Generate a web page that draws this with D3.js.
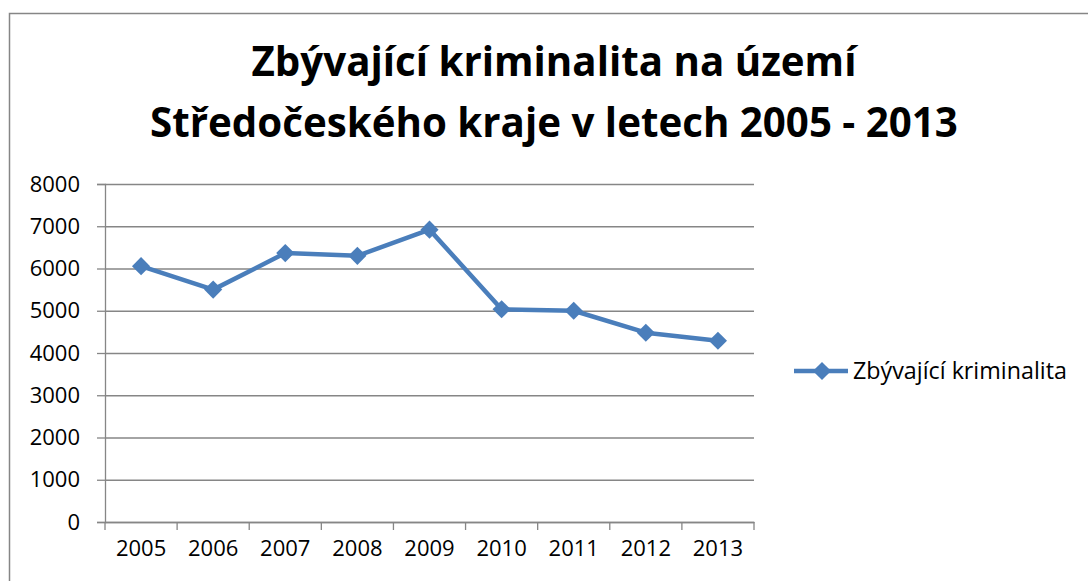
<!DOCTYPE html>
<html>
<head>
<meta charset="utf-8">
<script src="https://cdn.jsdelivr.net/npm/d3@7"></script>
<style>
  body { margin: 0; background: #fff; }
  text { font-family: "Open Sans", Lato, sans-serif; fill: #000; }
</style>
</head>
<body>
<svg id="chart" width="1088" height="581"></svg>
<script>
// data
var years = ["2005", "2006", "2007", "2008", "2009", "2010", "2011", "2012", "2013"];
var values = [6055, 5500, 6365, 6300, 6920, 5035, 5000, 4480, 4290];
var yTicks = [0, 1000, 2000, 3000, 4000, 5000, 6000, 7000, 8000];
var seriesName = "Zbývající kriminalita";
var titleLines = ["Zbývající kriminalita na území", "Středočeského kraje v letech 2005 - 2013"];

var svg = d3.select("svg#chart"),
  margin = { top: 184, left: 105 },
  width = 649,
  height = 338,
  blue = "#4a7ebb",
  grey = "#868686";

// outer chart border
svg.append("rect")
  .attr("x", 9.5).attr("y", 13.5)
  .attr("width", 1100).attr("height", 600)
  .attr("fill", "none").attr("stroke", grey).attr("stroke-width", 1.5);

// title, two lines, sized to the width in the picture
var title = svg.append("g").attr("font-weight", "bold").attr("text-anchor", "middle");
var t2 = title.append("text").attr("x", 554).attr("y", 137).attr("font-size", 40).text(titleLines[1]);
var fs = 40 * 808 / t2.node().getComputedTextLength();
t2.attr("font-size", fs);
title.append("text").attr("x", 554).attr("y", 76).attr("font-size", fs).text(titleLines[0]);

var g = svg.append("g")
  .attr("transform", "translate(" + margin.left + "," + margin.top + ")");

var x = d3.scaleBand().domain(years).range([0, width]);
var y = d3.scaleLinear().domain([0, 8000]).range([height, 0]);

// gridlines
g.append("g")
  .call(d3.axisLeft(y).tickValues(yTicks).tickSize(-width).tickFormat(""))
  .call(function (a) { a.select(".domain").remove(); })
  .selectAll("line").attr("stroke", grey).attr("stroke-width", 1.3);

// y axis
var ya = g.append("g")
  .call(d3.axisLeft(y).tickValues(yTicks).tickSize(8).tickPadding(17).tickFormat(d3.format("d")));
ya.select(".domain").attr("stroke", grey).attr("stroke-width", 1.3);
ya.selectAll("line").attr("stroke", grey).attr("stroke-width", 1.3);
ya.selectAll("text").attr("font-size", 22).attr("font-family", null);

// x axis: labels at category centres, ticks between categories
var xa = g.append("g")
  .attr("transform", "translate(0," + height + ")")
  .call(d3.axisBottom(x).tickSize(0).tickPadding(18));
xa.select(".domain").attr("stroke", grey).attr("stroke-width", 1.3);
xa.selectAll("text").attr("font-size", 22).attr("font-family", null);
xa.selectAll(".sep")
  .data(years.concat(["end"]))
  .enter()
  .append("line")
  .attr("class", "sep")
  .attr("x1", function (d) { return d === "end" ? width : x(d); })
  .attr("x2", function (d) { return d === "end" ? width : x(d); })
  .attr("y1", 0).attr("y2", 8)
  .attr("stroke", grey).attr("stroke-width", 1.3);

// series line
var line = d3.line()
  .x(function (d, i) { return x(years[i]) + x.bandwidth() / 2; })
  .y(function (d) { return y(d); });

g.append("path")
  .datum(values)
  .attr("fill", "none")
  .attr("stroke", blue)
  .attr("stroke-width", 4.5)
  .attr("stroke-linejoin", "round")
  .attr("d", line);

var diamond = d3.symbol().type(d3.symbolSquare).size(165);

g.selectAll(".pt")
  .data(values)
  .enter()
  .append("path")
  .attr("class", "pt")
  .attr("d", diamond)
  .attr("fill", blue)
  .attr("transform", function (d, i) {
    return "translate(" + (x(years[i]) + x.bandwidth() / 2) + "," + y(d) + ") rotate(45)";
  });

// legend
var legend = svg.append("g").attr("transform", "translate(794,371)");
legend.append("line")
  .attr("x1", 0).attr("x2", 54)
  .attr("stroke", blue).attr("stroke-width", 4.5);
legend.append("path")
  .attr("d", diamond)
  .attr("fill", blue)
  .attr("transform", "translate(28,0) rotate(45)");
var lt = legend.append("text")
  .attr("x", 59).attr("dy", "0.35em")
  .attr("font-size", 21)
  .text(seriesName);
lt.attr("font-size", 21 * 214 / lt.node().getComputedTextLength());
</script>
</body>
</html>
